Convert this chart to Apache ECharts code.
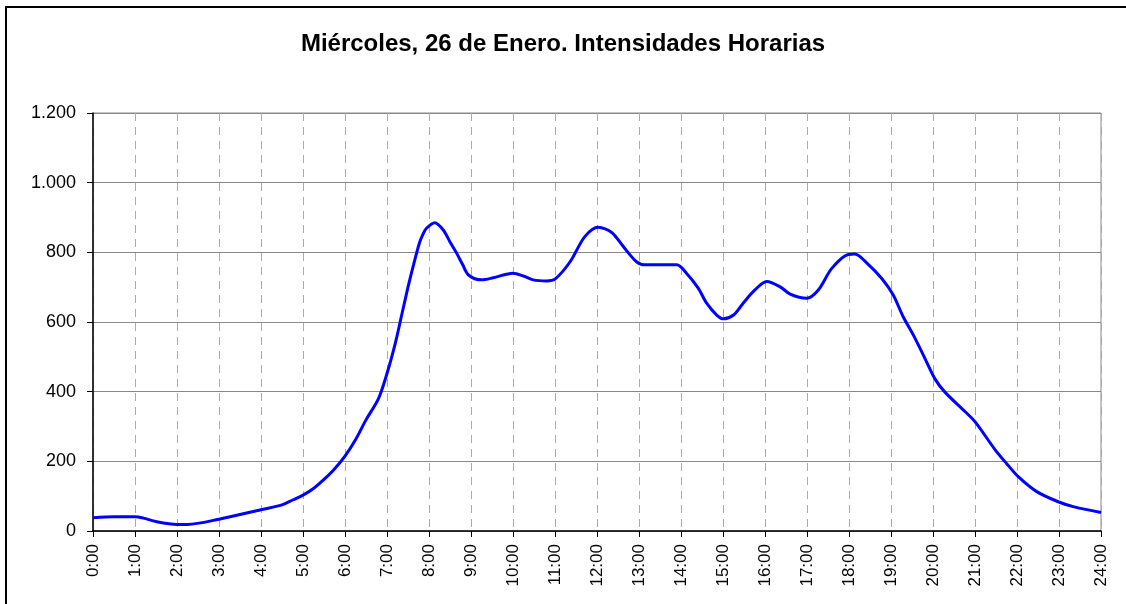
<!DOCTYPE html>
<html>
<head>
<meta charset="utf-8">
<script src="https://cdn.jsdelivr.net/npm/echarts@6/dist/echarts.min.js"></script>
<style>
  html, body { margin: 0; padding: 0; background: #fff; }
  #chart { width: 1126px; height: 604px; }
</style>
</head>
<body>
<div id="chart"></div>
<script>
// hora del día (decimal) y intensidad
const hours = [
  0, 0.5, 1.0, 1.2, 1.5, 2.0, 2.25, 3.0, 4.0, 4.5, 4.75, 5.0, 5.25, 5.5, 5.75,
  6.0, 6.25, 6.5, 6.8, 7.0, 7.2, 7.35, 7.5, 7.61, 7.77, 7.85, 7.94, 8.14, 8.34,
  8.5, 8.66, 8.8, 8.94, 9.25, 9.53, 10.0, 10.25, 10.48, 10.8, 11.0, 11.36,
  11.71, 12.03, 12.35, 12.63, 12.94, 13.14, 13.9, 14.13, 14.41, 14.61, 14.85,
  15.01, 15.25, 15.48, 15.76, 16.04, 16.36, 16.6, 16.99, 17.27, 17.59, 17.98,
  18.14, 18.42, 18.78, 19.05, 19.29, 19.53, 19.77, 20.05, 20.29, 20.76, 21.0,
  21.48, 21.75, 22.03, 22.47, 22.98, 23.34, 24.0
]
const intensities = [
  38, 41, 41, 37, 27, 19, 19, 34, 61, 75, 89, 103, 122, 148, 178,
  215, 262, 319, 381, 452, 540, 620, 700, 754, 826, 850, 869, 885, 864,
  830, 797, 765, 735, 721, 727, 740, 732, 721, 718, 723, 773,
  845, 872, 857, 816, 773, 764, 764, 740, 697, 654, 620,
  609, 620, 654, 692, 716, 701, 680, 668, 692, 754, 794,
  795, 770, 725, 678, 615, 563, 505, 436, 398, 343, 314,
  233, 194, 156, 113, 84, 70, 53
]
const yTicks = [0, 200, 400, 600, 800, 1000, 1200]
const titleText = 'Miércoles, 26 de Enero. Intensidades Horarias'

const chart = echarts.init(document.getElementById('chart'))

const fmtMiles = (v) => String(v).replace(/\B(?=(\d{3})+(?!\d))/g, '.')

chart.setOption({
  animation: false,
  backgroundColor: '#fff',
  title: {
    text: titleText,
    left: 'center',
    top: 27,
    textStyle: {
      fontFamily: 'Liberation Sans, Arial, sans-serif',
      fontSize: 24,
      fontWeight: 'bold',
      color: '#000'
    }
  },
  graphic: [
    {
      type: 'rect',
      shape: { x: 6, y: 7, width: 1140, height: 620 },
      style: { fill: 'none', stroke: '#000', lineWidth: 2 },
      silent: true
    }
  ],
  grid: {
    left: 93,
    right: 25,
    top: 113,
    bottom: 73,
    show: true,
    borderColor: '#888',
    borderWidth: 1,
    backgroundColor: '#fff'
  },
  xAxis: {
    type: 'value',
    min: 0,
    max: 24,
    interval: 1,
    axisLine: { show: true, onZero: false, lineStyle: { color: '#000', width: 1.5 } },
    axisTick: { show: true, inside: false, length: 6, lineStyle: { color: '#000' } },
    axisLabel: {
      rotate: 90,
      margin: 13,
      color: '#000',
      fontSize: 17,
      fontFamily: 'Liberation Sans, Arial, sans-serif',
      formatter: (v) => v + ':00'
    },
    splitLine: {
      show: true,
      lineStyle: { color: '#aaa', width: 1, type: [8, 6] }
    }
  },
  yAxis: {
    type: 'value',
    min: yTicks[0],
    max: yTicks[yTicks.length - 1],
    interval: 200,
    axisLine: { show: true, lineStyle: { color: '#000', width: 1.5 } },
    axisTick: { show: true, inside: false, length: 6, lineStyle: { color: '#000' } },
    axisLabel: {
      margin: 17,
      color: '#000',
      fontSize: 18,
      fontFamily: 'Liberation Sans, Arial, sans-serif',
      formatter: (v) => fmtMiles(v)
    },
    splitLine: {
      show: true,
      lineStyle: { color: '#888', width: 1 }
    }
  },
  series: [
    {
      type: 'line',
      data: hours.map((h, i) => [h, intensities[i]]),
      smooth: 0.3,
      symbol: 'none',
      lineStyle: { color: '#0000ff', width: 3 },
      z: 5
    }
  ]
})
</script>
</body>
</html>
